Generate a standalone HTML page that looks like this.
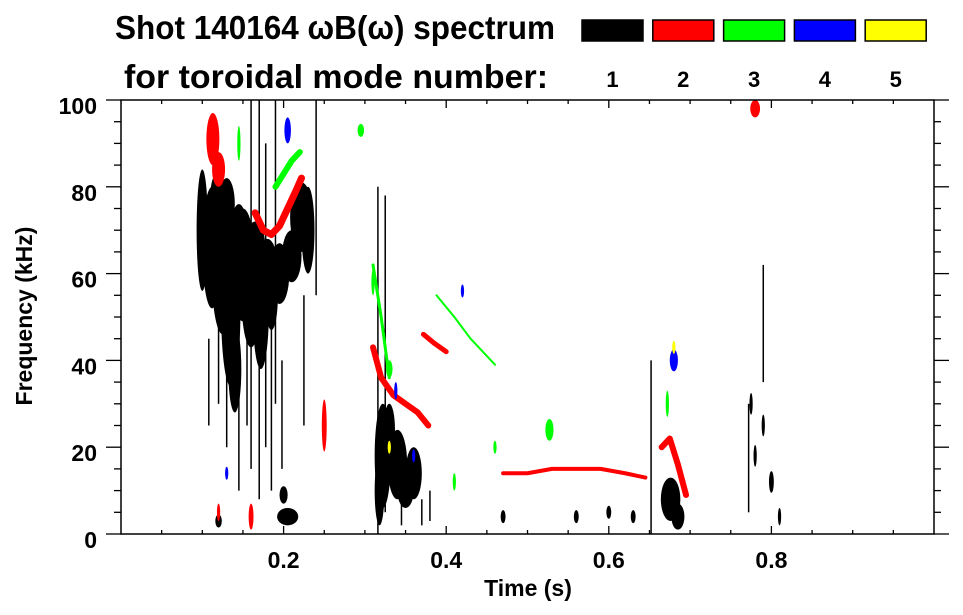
<!DOCTYPE html>
<html><head><meta charset="utf-8"><style>
html,body{margin:0;padding:0;background:#fff;}
svg{display:block;font-family:"Liberation Sans",Arial,sans-serif;font-weight:bold;}
</style></head><body>
<svg id="chart" width="963" height="615" viewBox="0 0 963 615" xmlns="http://www.w3.org/2000/svg">
<g id="title">
<text x="115" y="39" font-size="33" textLength="440" lengthAdjust="spacingAndGlyphs">Shot 140164 ωB(ω) spectrum</text>
<text x="124" y="88" font-size="33" textLength="424" lengthAdjust="spacingAndGlyphs">for toroidal mode number:</text>
</g>
<g id="legend"></g>
<g id="marks"></g>
<g id="axes"></g>
<text x="528" y="596" font-size="23" text-anchor="middle">Time (s)</text>
<text transform="translate(32,316) rotate(-90)" font-size="23" text-anchor="middle">Frequency (kHz)</text>
</svg>
<script>
const modeLabels = ["1","2","3","4","5"];
const modeColors = ["#000000","#ff0000","#00ff00","#0000ff","#ffff00"];
const xTicks = [0.2,0.4,0.6,0.8];
const yTicks = [0,20,40,60,80,100];
// blobs: [time s, freq kHz, half-width s, half-height kHz]
const blobs1 = [[0.10,70,0.007,14],[0.112,66,0.012,14],[0.125,62,0.014,16],[0.135,52,0.012,18],[0.14,38,0.008,10],[0.15,62,0.015,13],[0.16,55,0.012,12],[0.172,52,0.01,14],[0.18,60,0.014,8],[0.195,60,0.012,7],[0.21,64,0.012,6],[0.222,73,0.014,8],[0.23,70,0.008,10],[0.13,76,0.01,6],[0.165,67,0.012,5],[0.118,78,0.008,5],[0.145,70,0.01,6],[0.185,55,0.008,8],[0.205,4,0.013,2],[0.2,9,0.005,2],[0.322,18,0.01,12],[0.34,16,0.012,8],[0.36,14,0.01,6],[0.33,24,0.007,6],[0.318,10,0.006,8],[0.35,10,0.01,4],[0.676,8,0.012,5],[0.685,4,0.008,3],[0.12,3,0.004,1.5],[0.47,4,0.003,1.5],[0.56,4,0.003,1.5],[0.60,5,0.003,1.5],[0.63,4,0.003,1.5],[0.78,18,0.002,2.5],[0.79,25,0.002,2.5],[0.8,12,0.003,2.5],[0.775,30,0.002,2.5],[0.81,4,0.002,2]];
// streaks: [time s, freq start kHz, freq end kHz]
const streaks1 = [[0.316,0,80],[0.325,5,78],[0.652,0,40],[0.13,20,60],[0.145,10,50],[0.16,15,100],[0.17,8,100],[0.178,20,90],[0.19,30,100],[0.24,55,100],[0.12,30,50],[0.155,25,60],[0.185,10,60],[0.79,35,62],[0.772,5,30],[0.345,2,10],[0.37,2,8],[0.38,3,10],[0.108,25,45],[0.198,15,40],[0.225,25,55]];
const blobs2 = [[0.113,91,0.008,6],[0.12,84,0.008,4],[0.25,25,0.003,6],[0.16,4,0.003,3],[0.78,98,0.006,2],[0.12,5,0.002,2]];
const track2a_t = [0.165,0.175,0.185,0.195,0.205,0.215,0.222];
const track2a_f = [74,70,69,71,75,79,82];
const track2b_t = [0.31,0.32,0.335,0.35,0.365,0.378];
const track2b_f = [43,36,32,30,28,25];
const track2c_t = [0.372,0.385,0.40];
const track2c_f = [46,44,42];
const track2d_t = [0.47,0.50,0.53,0.56,0.59,0.62,0.645];
const track2d_f = [14,14,15,15,15,14,13];
const track2e_t = [0.665,0.675,0.685,0.695];
const track2e_f = [20,22,16,9];
const blobs3 = [[0.145,90,0.002,4],[0.295,93,0.004,1.5],[0.31,58,0.002,3],[0.33,38,0.004,2],[0.527,24,0.005,2.5],[0.46,20,0.002,1.5],[0.672,30,0.002,3],[0.41,12,0.002,2]];
const track3a_t = [0.19,0.2,0.21,0.22];
const track3a_f = [80,83,86,88];
const track3b_t = [0.31,0.32,0.33];
const track3b_f = [62,50,36];
const track3c_t = [0.388,0.41,0.43,0.46];
const track3c_f = [55,50,45,39];
const blobs4 = [[0.205,93,0.004,3],[0.42,56,0.002,1.5],[0.68,40,0.005,2.5],[0.338,33,0.002,2],[0.13,14,0.002,1.5],[0.36,18,0.002,1.5]];
const blobs5 = [[0.33,20,0.002,1.5],[0.68,43,0.002,1.5]];

const X0=121, X1=934, Y0=534, Y1=100;
function xs(t){return X0+t*(X1-X0);}
function ys(f){return Y0-f/100*(Y0-Y1);}
const NS="http://www.w3.org/2000/svg";
function mk(tag,parent,attrs){const e=document.createElementNS(NS,tag);for(const k in attrs)e.setAttribute(k,attrs[k]);parent.appendChild(e);return e;}

const marks=document.getElementById('marks');
function drawBlobs(arr,color,name){
  arr.forEach(b=>{
    const e=mk('ellipse',marks,{cx:xs(b[0]),cy:ys(b[1]),rx:Math.max(1,b[2]*(X1-X0)),ry:Math.max(1,b[3]*(Y0-Y1)/100),fill:color});
    
    
  });
}
function drawTrack(ts,fs,color,w,name){
  const pts=ts.map((t,i)=>xs(t)+','+ys(fs[i])).join(' ');
  const e=mk('polyline',marks,{points:pts,fill:'none',stroke:color,'stroke-width':w,'stroke-linecap':'round','stroke-linejoin':'round'});
  
  
}
drawBlobs(blobs1,'#000','mode-1-blob');
streaks1.forEach(s=>{
  const e=mk('line',marks,{x1:xs(s[0]),x2:xs(s[0]),y1:ys(s[1]),y2:ys(s[2]),stroke:'#000','stroke-width':1.5});
  
  
});
drawBlobs(blobs2,'#f00','mode-2-blob');
drawTrack(track2a_t,track2a_f,'#f00',7,'mode-2-track');
drawTrack(track2b_t,track2b_f,'#f00',6,'mode-2-track');
drawTrack(track2c_t,track2c_f,'#f00',5,'mode-2-track');
drawTrack(track2d_t,track2d_f,'#f00',4,'mode-2-track');
drawTrack(track2e_t,track2e_f,'#f00',6,'mode-2-track');
drawBlobs(blobs3,'#0f0','mode-3-blob');
drawTrack(track3a_t,track3a_f,'#0f0',6,'mode-3-track');
drawTrack(track3b_t,track3b_f,'#0f0',3,'mode-3-track');
drawTrack(track3c_t,track3c_f,'#0f0',2,'mode-3-track');
drawBlobs(blobs4,'#00f','mode-4-blob');
drawBlobs(blobs5,'#ff0','mode-5-blob');

// legend
const leg=document.getElementById('legend');
modeLabels.forEach((m,i)=>{
  const x=582+i*70.8;
  const r=mk('rect',leg,{x:x,y:20,width:61,height:21,fill:modeColors[i],stroke:'#000','stroke-width':1.5});
  
  
  const t=mk('text',leg,{x:x+30.5,y:87,'font-size':22,'text-anchor':'middle'});
  t.textContent=m;
  
  
});

// axes
const ax=document.getElementById('axes');
const frame=mk('rect',ax,{x:X0,y:Y1,width:X1-X0,height:Y0-Y1,fill:'none',stroke:'#000','stroke-width':1.5});


for(let k=0;k<=20;k++){
  const f=k*5, maj=(k%4===0), y=ys(f);
  mk('line',ax,{x1:X0-(maj?15:7),x2:X0,y1:y,y2:y,stroke:'#000','stroke-width':1.3});
  mk('line',ax,{x1:X1,x2:X1+(maj?15:7),y1:y,y2:y,stroke:'#000','stroke-width':1.3});
}
for(let k=1;k<20;k++){
  const t=k*0.05, maj=(k%4===0), x=xs(t);
  mk('line',ax,{x1:x,x2:x,y1:Y0,y2:Y0-(maj?8:4),stroke:'#000','stroke-width':1.3});
  mk('line',ax,{x1:x,x2:x,y1:Y1,y2:Y1+(maj?8:4),stroke:'#000','stroke-width':1.3});
}
yTicks.forEach(v=>{
  const t=mk('text',ax,{x:97,y:ys(v)+14,'font-size':23,'text-anchor':'end'});
  t.textContent=String(v);
  
  
});
xTicks.forEach(v=>{
  const t=mk('text',ax,{x:xs(v),y:568,'font-size':23,'text-anchor':'middle'});
  t.textContent=v.toFixed(1);
  
  
});
</script>
</body></html>
